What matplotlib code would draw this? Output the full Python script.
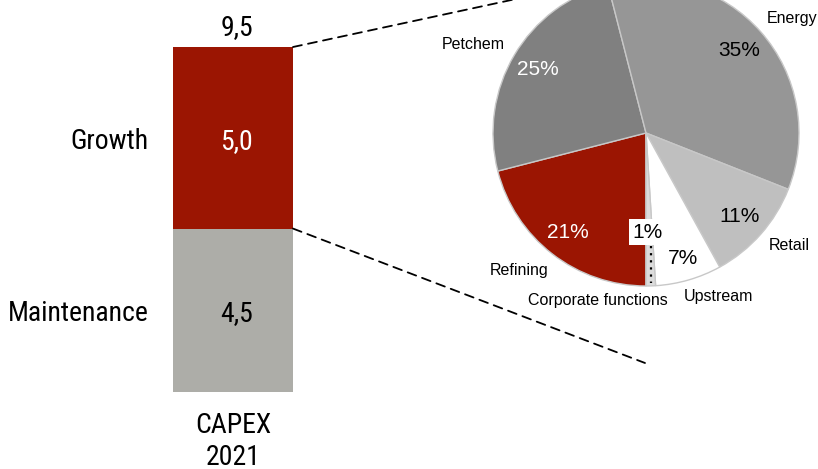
import matplotlib
matplotlib.use("Agg")
import matplotlib.pyplot as plt
from matplotlib.patches import ConnectionPatch

plt.rcParams['font.family'] = ['Liberation Sans', 'DejaVu Sans']
NARROW = ['Roboto Condensed', 'Liberation Sans', 'DejaVu Sans']

# CAPEX 2021 split (bn)
bar_segments = ["Maintenance", "Growth"]
bar_values = [4.5, 5.0]
bar_category = ["CAPEX", "2021"]

# Growth CAPEX breakdown by business (%)
pie_labels = ["Refining", "Petchem", "Energy", "Retail", "Upstream", "Corporate functions"]
pie_values = [21, 25, 35, 11, 7, 1]


def fmt(v):
    return f"{v:.1f}".replace(".", ",")


W, H = 818, 469
fig = plt.figure(figsize=(W / 100, H / 100), dpi=100)
BIG = 20

# ---- stacked bar ----
bx0, bx1, by_top, by_bot = 173, 293, 47, 392
axb = fig.add_axes([bx0 / W, (H - by_bot) / H, (bx1 - bx0) / W, (by_bot - by_top) / H])
unit_px = (by_bot - by_top) / sum(bar_values)
total = sum(bar_values)
bar_colors = ["#ADADA8", "#9B1502"]
text_colors = ["black", "white"]
bottom = 0
for name, v, c, tc in zip(bar_segments, bar_values, bar_colors, text_colors):
    axb.bar(0, v, bottom=bottom, width=1.0, color=c, edgecolor="none")
    base = bottom + v / 2 - 11 / unit_px
    axb.text(0.03, base, fmt(v), ha="center", va="baseline", color=tc,
             fontsize=BIG, family=NARROW)
    axb.text(-0.7, base, name, ha="right", va="baseline", color="black",
             fontsize=BIG, family=NARROW, clip_on=False)
    bottom += v
axb.text(0.03, total + 12 / unit_px, fmt(total), ha="center", va="baseline",
         fontsize=BIG, family=NARROW, clip_on=False)
for i, line in enumerate(bar_category):
    axb.text(0, -(41 + 32 * i) / unit_px, line, ha="center", va="baseline",
             fontsize=BIG, family=NARROW, clip_on=False)
axb.set_xlim(-0.5, 0.5)
axb.set_ylim(0, total)
axb.set_xticks([])
axb.set_yticks([])
for s in axb.spines.values():
    s.set_visible(False)
axb.patch.set_alpha(0)

# ---- pie ----
cx, cy, R = 646, 133, 153
L = 1.3
half = L * R
axp = fig.add_axes([(cx - half) / W, (H - cy - half) / H, 2 * half / W, 2 * half / H])
pie_colors = ["#9B1502", "#808080", "#969696", "#BFBFBF", "#FFFFFF", "#DCDCDC"]
axp.pie(pie_values, colors=pie_colors, startangle=-90, counterclock=False,
        wedgeprops=dict(edgecolor="#C8C8C8", linewidth=1.0))
axp.set_xlim(-L, L)
axp.set_ylim(-L, L)
axp.set_aspect("equal")
axp.axis("off")


def p(px, py):
    return ((px - cx) / R, (cy - py) / R)


name_pos = [(519, 270), (473, 44), (792, 18), (789, 246), (718, 297), (598, 301)]
for lab, pos in zip(pie_labels, name_pos):
    axp.text(*p(*pos), lab, ha="center", va="center", fontsize=11.5, color="black",
             clip_on=False)

pct_pos = [(568, 232), (538, 69), (739, 50), (740, 216), (683, 258), (647, 232)]
pct_col = ["white", "white", "black", "black", "black", "black"]
for v, pos, c in zip(pie_values, pct_pos, pct_col):
    kw = {}
    if v == 1:
        kw["bbox"] = dict(boxstyle="square,pad=0.15", fc="white", ec="none")
    axp.text(*p(*pos), f"{v}%", ha="center", va="center", fontsize=15, color=c,
             clip_on=False, **kw)

# leader for the smallest slice
x0, y0 = p(651, 246)
x1, y1 = p(651, 283)
axp.plot([x0, x1], [y0, y1], color="black", linestyle=(0, (1, 2.2)), linewidth=1.6)

# ---- dashed connectors between bar and pie ----
for ybar, ppt in [(total, p(646, -29)), (bar_values[0], p(645, 363))]:
    con = ConnectionPatch(xyA=(0.5, ybar), coordsA=axb.transData,
                          xyB=ppt, coordsB=axp.transData,
                          color="black", linewidth=1.3, linestyle=(0, (5, 3.5)))
    fig.add_artist(con)

fig.savefig("out.png", dpi=100)
